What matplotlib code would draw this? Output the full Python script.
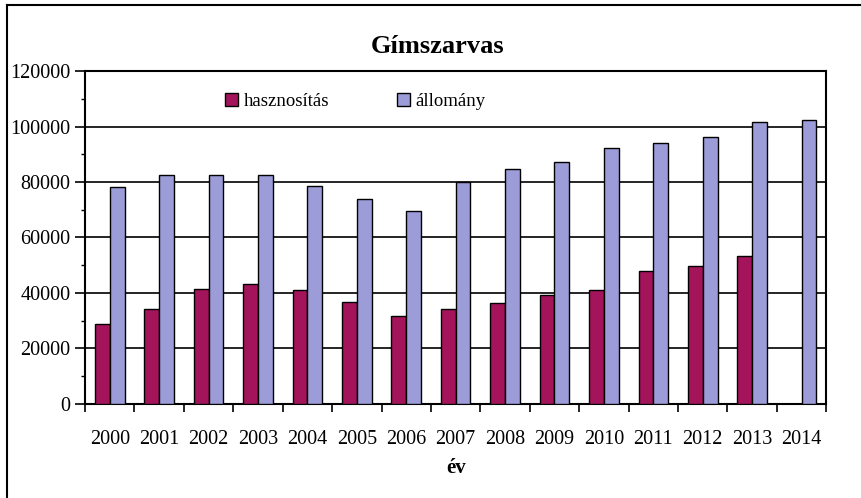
import numpy as np
import matplotlib.pyplot as plt
from matplotlib.lines import Line2D
from matplotlib.ticker import MultipleLocator, FixedLocator

plt.rcParams['font.family'] = ['Liberation Serif', 'DejaVu Serif']

# data
years = ['2000', '2001', '2002', '2003', '2004', '2005', '2006', '2007',
         '2008', '2009', '2010', '2011', '2012', '2013', '2014']
hasznositas = [28800, 34100, 41400, 43200, 41000, 36900, 31800, 34100,
               36500, 39300, 41100, 47900, 49700, 53300, 0]
allomany = [78200, 82500, 82500, 82500, 78600, 73900, 69500, 80000,
            84700, 87200, 92300, 94000, 96200, 101600, 102300]

fig = plt.figure(figsize=(8.61, 4.98), dpi=100)
ax = fig.add_axes([0.0987, 0.1888, 0.861, 0.6686])

x = np.arange(len(years))
w = 0.3
ax.bar(x - w / 2, hasznositas, w, color='#A3145B', edgecolor='black',
       linewidth=1.0, label='hasznosítás', zorder=3)
ax.bar(x + w / 2, allomany, w, color='#9C9CD8', edgecolor='black',
       linewidth=1.0, label='állomány', zorder=3)

ax.set_xlim(-0.5, len(years) - 0.5)
ax.set_ylim(0, 120000)
ax.yaxis.set_major_locator(MultipleLocator(20000))
ax.yaxis.set_minor_locator(MultipleLocator(10000))
ax.grid(axis='y', which='major', color='black', linewidth=1.2, zorder=1)

# category labels centred, ticks between categories
ax.set_xticks(x)
ax.set_xticklabels(years, fontsize=14.5)
ax.tick_params(axis='x', which='major', length=0, pad=19)
ax.xaxis.set_minor_locator(FixedLocator(np.arange(-0.5, len(years), 1.0)))
ax.tick_params(axis='x', which='minor', length=6, width=1.2, direction='out')
ax.tick_params(axis='y', which='major', labelsize=14.5, length=7, width=1.2)
ax.tick_params(axis='y', which='minor', length=3, width=1.0)

for s in ['top', 'right', 'left', 'bottom']:
    ax.spines[s].set_linewidth(1.5)

ax.set_xlabel('év', fontsize=15, fontweight='bold', labelpad=6)
fig.text(0.508, 0.907, 'Gímszarvas', ha='center', va='center',
         fontsize=19, fontweight='bold')

ax.legend(loc='upper center', bbox_to_anchor=(0.365, 0.985), ncol=2,
          frameon=False, fontsize=13.5, handlelength=0.7, handleheight=0.7,
          columnspacing=3.6, handletextpad=0.3)

# outer frame (left and top edges visible)
fig.add_artist(Line2D([0.0085, 0.0085], [0, 0.99], color='black', lw=1.5))
fig.add_artist(Line2D([0.0085, 1.0], [0.99, 0.99], color='black', lw=1.5))

fig.savefig('out.png', dpi=100)
